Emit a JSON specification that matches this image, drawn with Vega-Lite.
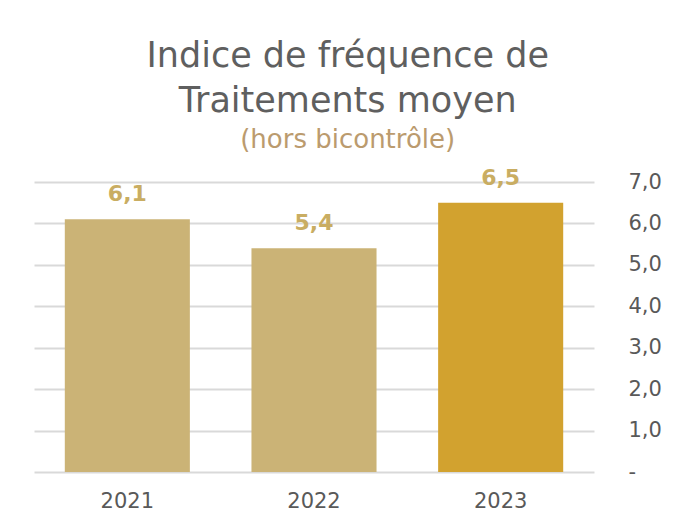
{
  "$schema": "https://vega.github.io/schema/vega-lite/v6.json",
  "width": 560,
  "height": 290,
  "autosize": {"type": "none"},
  "padding": {"left": 34, "top": 182, "right": 92, "bottom": 50},
  "background": "white",
  "config": {"view": {"stroke": null}, "font": "DejaVu Sans"},
  "title": {
    "text": ["Indice de fréquence de", "Traitements moyen"],
    "subtitle": "(hors bicontrôle)",
    "anchor": "middle",
    "frame": "bounds",
    "font": "DejaVu Sans",
    "fontSize": 35,
    "fontWeight": "normal",
    "color": "#5F5F5F",
    "lineHeight": 45,
    "subtitleFont": "DejaVu Sans",
    "subtitleFontSize": 26,
    "subtitleFontWeight": "normal",
    "subtitleColor": "#BB9B6E",
    "subtitlePadding": 8,
    "offset": 14
  },
  "data": {
    "values": [
      {"annee": "2021", "valeur": 6.1, "label": "6,1", "groupe": "a"},
      {"annee": "2022", "valeur": 5.4, "label": "5,4", "groupe": "a"},
      {"annee": "2023", "valeur": 6.5, "label": "6,5", "groupe": "b"}
    ]
  },
  "encoding": {
    "x": {
      "field": "annee",
      "type": "nominal",
      "scale": {"paddingInner": 0.33, "paddingOuter": 0.165},
      "axis": {
        "title": null,
        "labelAngle": 0,
        "labelFontSize": 21,
        "labelFontWeight": "normal",
        "labelColor": "#595959",
        "labelPadding": 18,
        "ticks": false,
        "domain": false
      }
    },
    "y": {
      "field": "valeur",
      "type": "quantitative",
      "scale": {"domain": [0, 7], "nice": false},
      "axis": {
        "orient": "right",
        "title": null,
        "values": [0, 1, 2, 3, 4, 5, 6, 7],
        "labelExpr": "datum.value == 0 ? '-' : replace(format(datum.value, '.1f'), '.', ',')",
        "labelFontSize": 21,
        "labelFontWeight": "normal",
        "labelColor": "#595959",
        "labelPadding": 34,
        "labelAlign": "left",
        "ticks": false,
        "domain": false,
        "gridColor": "#D9D9D9",
        "gridWidth": 2
      }
    }
  },
  "layer": [
    {
      "mark": {"type": "bar"},
      "encoding": {
        "color": {
          "field": "groupe",
          "type": "nominal",
          "scale": {"domain": ["a", "b"], "range": ["#CBB376", "#D2A22F"]},
          "legend": null
        }
      }
    },
    {
      "mark": {"type": "text", "baseline": "alphabetic", "dy": -18, "fontSize": 22, "fontWeight": "bold", "color": "#C9AD62"},
      "encoding": {"text": {"field": "label"}}
    }
  ]
}
